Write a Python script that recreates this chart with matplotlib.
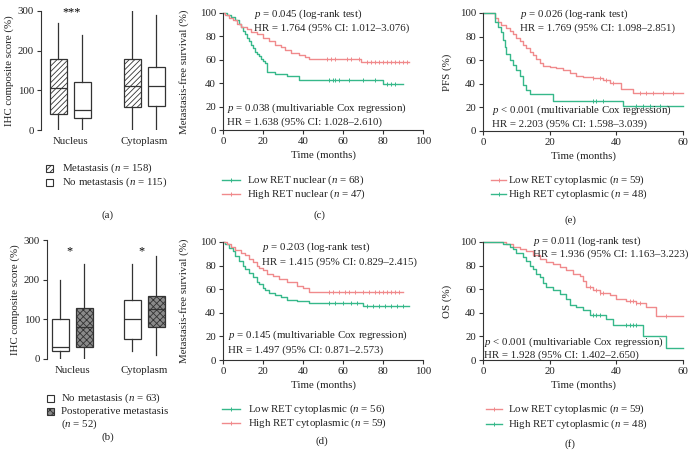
import numpy as np
import matplotlib
matplotlib.use("Agg")
import matplotlib.pyplot as plt
from matplotlib.patches import Rectangle
from matplotlib.lines import Line2D

plt.rcParams['font.family'] = ['Liberation Serif', 'DejaVu Serif']
plt.rcParams['mathtext.fontset'] = 'custom'
plt.rcParams['mathtext.rm'] = 'Liberation Serif'
plt.rcParams['mathtext.it'] = 'Liberation Serif:italic'
plt.rcParams['hatch.linewidth'] = 0.6

# ---------------- data ----------------
categories = ["Nucleus", "Cytoplasm"]
# box stats: [whisker_low, q1, median, q3, whisker_high]
a_met = [[0, 40, 105, 180, 270], [0, 58, 110, 180, 300]]
a_nomet = [[0, 30, 50, 120, 240], [0, 60, 110, 160, 290]]
b_nomet = [[0, 20, 30, 100, 200], [20, 50, 100, 150, 240]]
b_postmet = [[0, 30, 80, 128, 240], [10, 80, 125, 160, 260]]

# KM curves: step times, survival values (%), end time, censor times
c_low_t = [0, 2, 4, 6, 8, 9, 10, 11, 12, 13, 14, 15, 16, 17, 18, 19, 20, 21, 22, 26, 32, 38, 80]
c_low_s = [100, 98.5, 97, 94, 91, 88, 85, 82, 79, 76, 73, 70, 67, 65, 63, 61, 59, 57, 50, 48, 46, 43, 39]
c_low_end = 90
c_low_cens = [53, 55, 56, 58, 63, 70, 76, 82, 84, 86]
c_high_t = [0, 1, 3, 5, 7, 9, 12, 14, 17, 20, 23, 26, 29, 31, 34, 38, 41, 43, 69]
c_high_s = [100, 98, 96, 94, 91, 88, 86, 84, 82, 79, 76, 73, 71, 68, 66, 64, 62, 61, 58.5]
c_high_end = 93
c_high_cens = [52, 54, 56, 62, 64, 68, 72, 74, 76, 78, 80, 82, 84, 86, 88, 90, 92]

d_low_t = [0, 1, 3, 5, 6, 8, 10, 11, 13, 15, 17, 18, 20, 21, 23, 26, 29, 32, 37, 43, 70]
d_low_s = [100, 98, 95, 92, 88, 84, 80, 77, 74, 70, 66, 64, 61, 59, 57, 55, 53, 51, 50, 48.5, 45.5]
d_low_end = 93
d_low_cens = [53, 56, 60, 64, 67, 72, 75, 78, 81, 84, 87, 90]
d_high_t = [0, 2, 4, 6, 9, 11, 13, 15, 17, 18, 20, 22, 25, 28, 32, 37, 40, 43]
d_high_s = [100, 98, 96, 93, 91, 89, 86, 83, 80, 78, 76, 73, 71, 69, 66, 63, 61, 58]
d_high_end = 90
d_high_cens = [53, 55, 58, 61, 63, 66, 70, 73, 76, 78, 80, 82, 84, 86, 88]

e_low_t = [0, 3.5, 4.5, 5.5, 7, 8, 9, 10, 11, 12, 13, 14, 15, 16, 17, 18, 20, 22, 24, 26, 28, 30, 33, 36, 38, 41.5, 45]
e_low_s = [100, 96, 92, 90, 87, 85, 82, 79, 76, 73, 70, 67, 64, 61, 58, 55, 54, 53, 52, 49, 47, 46, 45, 43, 41, 36, 32]
e_low_end = 60
e_low_cens = [33, 35, 37, 39, 47, 49, 51, 54, 57]
e_high_t = [0, 3.5, 4.5, 5.5, 6, 6.5, 7, 8, 9, 10, 11, 12, 13, 14, 21, 42]
e_high_s = [100, 92, 88, 84, 77, 71, 65, 60, 56, 52, 47, 39, 35, 31, 25, 21]
e_high_end = 60
e_high_cens = [33, 34, 36, 46, 48, 50, 53]

f_low_t = [0, 7, 9, 11, 13, 15, 17, 19, 21, 23, 25, 27, 29, 30, 31, 33, 35, 38, 40, 43, 46, 49, 52]
f_low_s = [100, 98, 96, 94, 92, 89, 86, 83, 81, 79, 76, 73, 71, 67, 62, 59, 57, 55, 52, 50, 48, 45, 37]
f_low_end = 60
f_low_cens = [32, 34, 35, 36, 44, 45, 46, 47, 55]
f_high_t = [0, 6, 8, 9, 10, 12, 13, 14, 15, 16, 17, 18, 19, 21, 23, 25, 26, 28, 30, 32, 37, 39, 48, 55]
f_high_s = [100, 98, 96, 94, 91, 87, 84, 80, 77, 73, 70, 65, 62, 59, 56, 52, 47, 45, 42, 38, 35, 30, 20, 10]
f_high_end = 60
f_high_cens = [33, 34, 35, 43, 44, 45, 46]

# ---------------- styling ----------------
W, H = 695, 453
GREEN = '#36b88a'
RED = '#f08a8c'
DARK = '#333333'
FS = 7.8

fig = plt.figure(figsize=(W / 100, H / 100), dpi=100)


def px_axes(x0, y0, x1, y1):
    return fig.add_axes([x0 / W, 1 - y1 / H, (x1 - x0) / W, (y1 - y0) / H])


def ftext(x, y, s, ha='left', va='center', **kw):
    fig.text(x / W, 1 - y / H, s, ha=ha, va=va, fontsize=FS, color='#222222', **kw)


def style_axes(ax, bottom=True):
    for sp in ['top', 'right']:
        ax.spines[sp].set_visible(False)
    ax.spines['left'].set_linewidth(0.8)
    ax.spines['left'].set_color(DARK)
    if bottom:
        ax.spines['bottom'].set_linewidth(0.8)
        ax.spines['bottom'].set_color(DARK)
    else:
        ax.spines['bottom'].set_visible(False)
    ax.tick_params(direction='out', length=3, width=0.8, color=DARK,
                   labelsize=FS, labelcolor='#222222', pad=2)


def draw_boxes(ax, groups, centers, offsets, styles):
    for series, off, st in zip(groups, offsets, styles):
        stats = []
        for vals, c in zip(series, centers):
            lo, q1, med, q3, hi = vals
            stats.append(dict(whislo=lo, q1=q1, med=med, q3=q3, whishi=hi))
        pos = [c + off for c in centers]
        ax.bxp(stats, positions=pos, widths=17, showcaps=False,
               showfliers=False, patch_artist=True,
               boxprops=dict(facecolor=st['fc'], edgecolor=DARK, hatch=st['hatch'], linewidth=0.9),
               medianprops=dict(color=DARK, linewidth=0.9),
               whiskerprops=dict(color=DARK, linewidth=0.9),
               manage_ticks=False)


# ---------------- panel (a) ----------------
ax = px_axes(41, 11, 171, 130)
style_axes(ax, bottom=False)
ax.set_xlim(0, 130)
ax.set_ylim(0, 300)
ax.set_yticks([0, 100, 200, 300])
centers_a = [29, 103]
draw_boxes(ax, [a_met, a_nomet], centers_a, [-12, 12],
           [dict(fc='white', hatch='//////'), dict(fc='white', hatch='')])
ax.set_xticks(centers_a)
ax.set_xticklabels(categories)
ax.tick_params(axis='x', length=0, pad=5)
ax.set_ylabel('IHC composite score (%)', fontsize=FS, labelpad=3, color='#222222')
ax.text(centers_a[0] + 2, 297, '***', ha='center', va='center', fontsize=FS + 1)


def leg_square(x, y, hatch, fc):
    fig.add_artist(Rectangle((x / W, 1 - (y + 3.5) / H), 7 / W, 7 / H, transform=fig.transFigure,
                             facecolor=fc, edgecolor=DARK, hatch=hatch, linewidth=0.8))


leg_square(46, 168, '//////', 'white')
ftext(62, 168, 'Metastasis ($n$ = 158)')
leg_square(46, 182, '', 'white')
ftext(62, 182, 'No metastasis ($n$ = 115)')
ftext(108, 215, '(a)', ha='center')

# ---------------- panel (b) ----------------
ax = px_axes(47, 240, 177, 359)
style_axes(ax, bottom=False)
ax.set_xlim(0, 130)
ax.set_ylim(0, 300)
ax.set_yticks([0, 100, 200, 300])
centers_b = [25, 97]
draw_boxes(ax, [b_nomet, b_postmet], centers_b, [-12, 12],
           [dict(fc='white', hatch=''), dict(fc='#8a8a8a', hatch='xxxxx')])
ax.set_xticks(centers_b)
ax.set_xticklabels(categories)
ax.tick_params(axis='x', length=0, pad=5)
ax.set_ylabel('IHC composite score (%)', fontsize=FS, labelpad=3, color='#222222')
for c in centers_b:
    ax.text(c - 3, 272, '*', ha='center', va='center', fontsize=FS + 1)

leg_square(47, 398, '', 'white')
ftext(61, 398, 'No metastasis ($n$ = 63)')
leg_square(47, 411, 'xxxxx', '#8a8a8a')
ftext(61, 411, 'Postoperative metastasis')
ftext(61, 424, '($n$ = 52)')
ftext(108, 437, '(b)', ha='center')


# ---------------- KM panels ----------------
def step_value(ts, ss, x):
    idx = np.searchsorted(np.asarray(ts), np.asarray(x), side='right') - 1
    return np.asarray(ss)[idx]


def km(ax, ts, ss, end, cens, color):
    xs = list(ts) + [end]
    ys = list(ss) + [ss[-1]]
    ax.step(xs, ys, where='post', color=color, linewidth=1.0, clip_on=False)
    ax.plot(cens, step_value(ts, ss, cens), linestyle='none', marker='|',
            markersize=3, markeredgewidth=0.7, color=color, clip_on=False)


def km_axes(x0, y0, x1, y1, xmax, xstep, ylabel, ylabel_x):
    ax = px_axes(x0, y0, x1, y1)
    style_axes(ax)
    ax.set_xlim(0, xmax)
    ax.set_ylim(0, 100)
    ax.set_xticks(np.arange(0, xmax + 1, xstep))
    ax.set_yticks(np.arange(0, 101, 20))
    ax.set_xlabel('Time (months)', fontsize=FS, labelpad=3, color='#222222')
    ax.set_ylabel(ylabel, fontsize=FS, color='#222222')
    ax.yaxis.set_label_coords((ylabel_x - x0) / (x1 - x0), 0.5)
    return ax


def leg_line(x0, x1, y, color):
    fig.add_artist(Line2D([x0 / W, x1 / W], [1 - y / H, 1 - y / H], transform=fig.transFigure,
                          color=color, linewidth=1.0))
    xm = (x0 + x1) / 2
    fig.add_artist(Line2D([xm / W], [1 - y / H], transform=fig.transFigure, color=color,
                          marker='|', markersize=3, markeredgewidth=0.7, linestyle='none'))


# (c)
ax = km_axes(223, 13, 423, 130, 100, 20, 'Metastasis-free survival (%)', 189)
km(ax, c_low_t, c_low_s, c_low_end, c_low_cens, GREEN)
km(ax, c_high_t, c_high_s, c_high_end, c_high_cens, RED)
ftext(254, 14, '$p$ = 0.045 (log-rank test)')
ftext(254, 28, 'HR = 1.764 (95% CI: 1.012\u20133.076)')
ftext(227, 108, '$p$ = 0.038 (multivariable Cox regression)')
ftext(227, 122, 'HR = 1.638 (95% CI: 1.028\u20132.610)')
leg_line(222, 240, 180, GREEN)
ftext(247, 180, 'Low RET nuclear ($n$ = 68)')
leg_line(222, 240, 194, RED)
ftext(247, 194, 'High RET nuclear ($n$ = 47)')
ftext(319, 215, '(c)', ha='center')

# (d)
ax = km_axes(223, 242, 423, 360, 100, 20, 'Metastasis-free survival (%)', 189)
km(ax, d_low_t, d_low_s, d_low_end, d_low_cens, GREEN)
km(ax, d_high_t, d_high_s, d_high_end, d_high_cens, RED)
ftext(262, 247, '$p$ = 0.203 (log-rank test)')
ftext(262, 262, 'HR = 1.415 (95% CI: 0.829\u20132.415)')
ftext(228, 335, '$p$ = 0.145 (multivariable Cox regression)')
ftext(228, 350, 'HR = 1.497 (95% CI: 0.871\u20132.573)')
leg_line(222, 240, 409, GREEN)
ftext(248, 409, 'Low RET cytoplasmic ($n$ = 56)')
leg_line(222, 240, 423, RED)
ftext(248, 423, 'High RET cytoplasmic ($n$ = 59)')
ftext(322, 441, '(d)', ha='center')

# (e)
ax = km_axes(483, 13, 683, 131, 60, 20, 'PFS (%)', 452)
km(ax, e_low_t, e_low_s, e_low_end, e_low_cens, RED)
km(ax, e_high_t, e_high_s, e_high_end, e_high_cens, GREEN)
ftext(520, 14, '$p$ = 0.026 (log-rank test)')
ftext(520, 28, 'HR = 1.769 (95% CI: 1.098\u20132.851)')
ftext(492, 110, '$p$ < 0.001 (multivariable Cox regression)')
ftext(492, 124, 'HR = 2.203 (95% CI: 1.598\u20133.039)')
leg_line(491, 506, 180, RED)
ftext(508, 180, 'Low RET cytoplasmic ($n$ = 59)')
leg_line(491, 506, 194, GREEN)
ftext(508, 194, 'High RET cytoplasmic ($n$ = 48)')
ftext(570, 220, '(e)', ha='center')

# (f)
ax = km_axes(483, 242, 683, 360, 60, 20, 'OS (%)', 452)
km(ax, f_low_t, f_low_s, f_low_end, f_low_cens, RED)
km(ax, f_high_t, f_high_s, f_high_end, f_high_cens, GREEN)
ftext(533, 241, '$p$ = 0.011 (log-rank test)')
ftext(533, 254, 'HR = 1.936 (95% CI: 1.163\u20133.223)')
ftext(484, 342, '$p$ < 0.001 (multivariable Cox regression)')
ftext(484, 355, 'HR = 1.928 (95% CI: 1.402\u20132.650)')
leg_line(486, 502, 409, RED)
ftext(508, 409, 'Low RET cytoplasmic ($n$ = 59)')
leg_line(486, 502, 424, GREEN)
ftext(508, 424, 'High RET cytoplasmic ($n$ = 48)')
ftext(570, 444, '(f)', ha='center')

fig.savefig('out.png', dpi=100)
